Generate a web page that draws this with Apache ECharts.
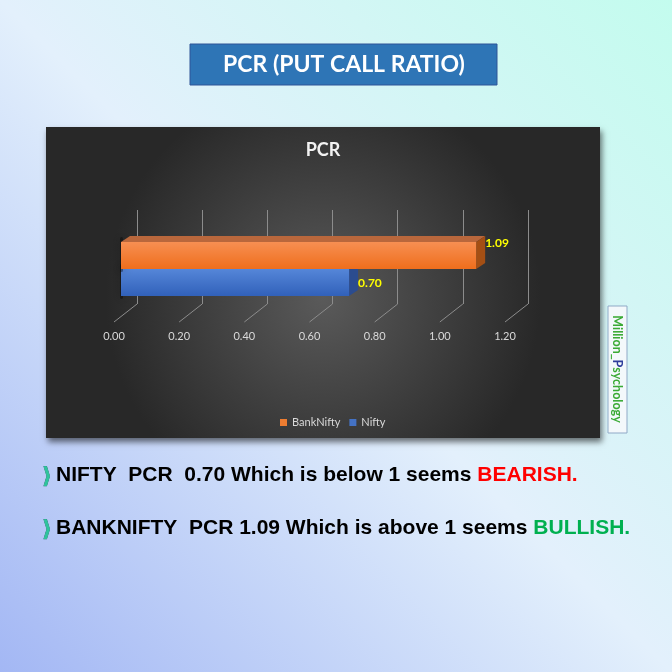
<!DOCTYPE html>
<html>
<head>
<meta charset="utf-8">
<script src="https://cdn.jsdelivr.net/npm/echarts@6/dist/echarts.min.js"></script>
<style>
  html, body { margin: 0; padding: 0; }
  body {
    width: 672px; height: 672px; overflow: hidden;
    background: linear-gradient(to top right, #a3b7f4 0%, #e3f0fc 50%, #c3fcee 100%);
  }
  #chart { width: 672px; height: 672px; }
</style>
</head>
<body>
<div id="chart"></div>
<script>
var categories = ['Nifty', 'BankNifty'];
var pcrValues = [0.70, 1.09];
var tickValues = [0, 0.2, 0.4, 0.6, 0.8, 1.0, 1.2];
var legendOrder = ['BankNifty', 'Nifty'];

var myChart = echarts.init(document.getElementById('chart'));

// couleurs par barre : face avant (haut, bas), dessus, côté
var barColors = {
    Nifty: { main: '#4472c4', top1: '#5586d8', top2: '#3161ba', lid: '#3a5fa6', side: '#2b4c8f' },
    BankNifty: { main: '#ed7d31', top1: '#f78f52', top2: '#ef6e1c', lid: '#b9673c', side: '#a44f14' }
};

function renderBar(params, api) {
    var v = api.value(0);
    var c = api.value(1);
    var start = api.coord([0, c]);
    var end = api.coord([v, c]);
    var h = api.size([0, 1])[1];
    var x0 = start[0], x1 = end[0];
    var y0 = end[1] - h / 2, y1 = end[1] + h / 2;
    var dx = 9, dy = -6;
    var col = barColors[categories[c]];
    var labelY = (c === categories.length - 1) ? y0 + 1 : end[1] + 1;
    return {
        type: 'group',
        children: [
            {
                type: 'rect',
                shape: { x: x0 - 1, y: y0 + dy + 1, width: 3, height: h - dy + 2, r: 1.5 },
                style: { fill: 'rgba(0,0,0,0.35)', shadowBlur: 9, shadowColor: 'rgba(0,0,0,1)' }
            },
            {
                type: 'polygon',
                shape: { points: [[x0, y0], [x0 + dx, y0 + dy], [x1 + dx, y0 + dy], [x1, y0]] },
                style: { fill: col.lid }
            },
            {
                type: 'polygon',
                shape: { points: [[x1, y0], [x1 + dx, y0 + dy], [x1 + dx, y1 + dy], [x1, y1]] },
                style: { fill: col.side }
            },
            {
                type: 'rect',
                shape: { x: x0, y: y0, width: x1 - x0, height: h },
                style: {
                    fill: new echarts.graphic.LinearGradient(0, 0, 0, 1, [
                        { offset: 0, color: col.top1 },
                        { offset: 1, color: col.top2 }
                    ])
                }
            },
            {
                type: 'text',
                style: {
                    x: x1 + dx, y: labelY,
                    text: v.toFixed(2),
                    fill: '#ffff00',
                    font: 'bold 12px Lato',
                    verticalAlign: 'middle',
                    align: 'left'
                }
            }
        ]
    };
}

function renderFloor(params, api) {
    var p = api.coord([api.value(0), 0]);
    return {
        type: 'line',
        shape: { x1: p[0], y1: p[1], x2: p[0] - 23, y2: p[1] + 18 },
        style: { stroke: '#8c8c8c', lineWidth: 1 }
    };
}

var barSeries = categories.map(function (name, i) {
    return {
        name: name,
        type: 'custom',
        xAxisIndex: 2,
        yAxisIndex: 2,
        itemStyle: { color: barColors[name].main },
        renderItem: renderBar,
        data: [[pcrValues[i], i]],
        z: 5 + i
    };
});

function chevron(y) {
    return {
        type: 'text', z: -9,
        style: {
            x: 42, y: y, text: '\u27E9',
            fill: '#2ec49c', font: 'bold 22px "DejaVu Sans"',
            stroke: '#1c6f62', lineWidth: 0.6,
            verticalAlign: 'middle'
        }
    };
}

function noteLine(y, words, tail, tailColor) {
    return {
        type: 'text', z: -9,
        style: {
            x: 56, y: y,
            text: '{t|' + words + '}{w|' + tail + '}',
            verticalAlign: 'middle',
            rich: {
                t: { fill: '#000000', font: 'bold 21px "Liberation Sans"' },
                w: { fill: tailColor, font: 'bold 21px "Liberation Sans"' }
            }
        }
    };
}

var option = {
    backgroundColor: 'transparent',
    animation: false,
    graphic: [
        {
            type: 'rect', z: -10,
            shape: { x: 190, y: 44, width: 307, height: 41 },
            style: { fill: '#2e75b6', stroke: '#2f5597', lineWidth: 1 }
        },
        {
            type: 'text', z: -9,
            style: {
                x: 344, y: 65, text: 'PCR (PUT CALL RATIO)',
                fill: '#ffffff', font: 'bold 23px Lato',
                align: 'center', verticalAlign: 'middle'
            }
        },
        {
            type: 'rect', z: -10,
            shape: { x: 46, y: 127, width: 554, height: 311 },
            style: {
                fill: new echarts.graphic.RadialGradient(0.5, 0.55, 0.7, [
                    { offset: 0, color: '#5a5a5a' },
                    { offset: 1, color: '#282828' }
                ]),
                shadowBlur: 6, shadowOffsetX: 2, shadowOffsetY: 4,
                shadowColor: 'rgba(0,0,0,0.55)'
            }
        },
        {
            type: 'text', z: -9,
            style: {
                x: 323, y: 150, text: 'PCR',
                fill: '#f2f2f2', font: 'bold 18px Lato',
                align: 'center', verticalAlign: 'middle',
                shadowBlur: 3, shadowColor: 'rgba(0,0,0,0.6)'
            }
        },
        {
            type: 'rect', z: -10,
            shape: { x: 608, y: 306, width: 19, height: 127 },
            style: { fill: '#f3f8fb', stroke: '#8fa9c6', lineWidth: 1 }
        },
        {
            type: 'text', z: -9,
            x: 617.5, y: 369, rotation: -Math.PI / 2,
            style: {
                x: 0, y: 0,
                text: '{g|Million_}{b|P}{g|sychology}',
                align: 'center', verticalAlign: 'middle',
                rich: {
                    g: { fill: '#3aaa35', font: 'bold 12.5px Lato' },
                    b: { fill: '#2e3d9c', font: 'bold 12.5px Lato' }
                }
            }
        },
        chevron(477),
        noteLine(475, 'NIFTY  PCR  0.70 Which is below 1 seems ', 'BEARISH.', '#ff0000'),
        chevron(530),
        noteLine(528, 'BANKNIFTY  PCR 1.09 Which is above 1 seems ', 'BULLISH.', '#00b050')
    ],
    legend: {
        data: legendOrder,
        top: 412,
        left: 275,
        icon: 'rect',
        itemWidth: 7,
        itemHeight: 7,
        itemGap: 9,
        textStyle: { color: '#d9d9d9', fontSize: 11, fontFamily: 'Lato' }
    },
    grid: [
        { left: 137, top: 210, width: 391, height: 94 },
        { left: 114, top: 210, width: 391, height: 112 },
        { left: 121, top: 242, width: 391, height: 54 }
    ],
    xAxis: [
        {
            gridIndex: 0, type: 'value', min: 0, max: 1.2, interval: 0.2,
            axisLine: { show: false }, axisTick: { show: false }, axisLabel: { show: false },
            splitLine: { show: true, lineStyle: { color: '#8c8c8c', width: 1 } }
        },
        {
            gridIndex: 1, type: 'value', min: 0, max: 1.2, interval: 0.2,
            axisLine: { show: false }, axisTick: { show: false }, splitLine: { show: false },
            axisLabel: {
                color: '#d9d9d9', fontSize: 11, fontFamily: 'Lato', margin: 9,
                formatter: function (v) { return v.toFixed(2); }
            }
        },
        {
            gridIndex: 2, type: 'value', min: 0, max: 1.2, interval: 0.2, show: false
        }
    ],
    yAxis: [
        { gridIndex: 0, type: 'value', min: 0, max: 1, show: false },
        { gridIndex: 1, type: 'value', min: 0, max: 1, show: false },
        { gridIndex: 2, type: 'category', data: categories, show: false }
    ],
    series: [
        {
            name: 'floor',
            type: 'custom',
            xAxisIndex: 0,
            yAxisIndex: 0,
            renderItem: renderFloor,
            data: tickValues.map(function (v) { return [v]; }),
            silent: true,
            z: 1
        }
    ].concat(barSeries)
};

myChart.setOption(option);
</script>
</body>
</html>
